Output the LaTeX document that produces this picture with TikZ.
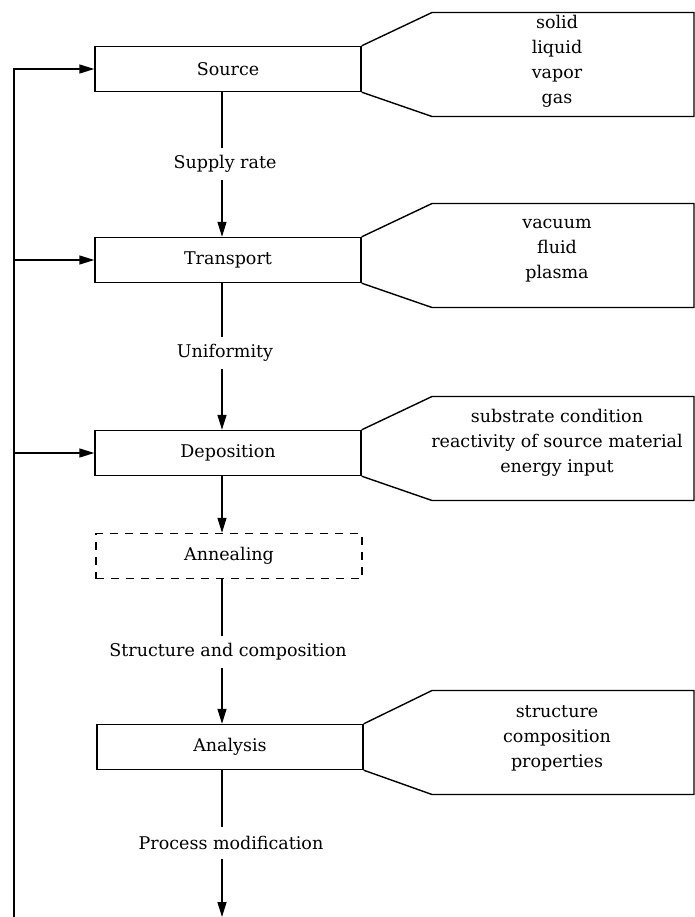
\documentclass[tikz,border=0pt]{standalone}
\usepackage{fontspec}
\setmainfont{DejaVu Serif}
\usetikzlibrary{arrows.meta}
\newcommand{\mfnt}{\fontsize{17.5pt}{25pt}\selectfont}
\begin{document}
\begin{tikzpicture}[x=1pt,y=-1pt,line width=1.4pt,
  box/.style={draw,minimum width=266pt,minimum height=45pt,inner sep=0pt,font=\mfnt},
  dbox/.style={box,dash pattern=on 8pt off 7pt},
  lab/.style={inner sep=0pt,minimum height=30pt,font=\mfnt},
  side/.style={align=center,inner sep=0pt,font=\mfnt},
  arr/.style={-{Triangle[length=15pt,width=9pt]}}]
\useasboundingbox (0,0) rectangle (695,917);
% main boxes
\node[box] (src) at (228,69) {Source};
\node[box] (trn) at (228,260) {Transport};
\node[box] (dep) at (228,453) {Deposition};
\node[dbox] (ann) at (229,556) {Annealing};
\node[box] (ana) at (230,747) {Analysis};
% connector labels
\node[lab] (l1) at (225,164) {Supply rate};
\node[lab] (l2) at (225,353) {Uniformity};
\node[lab] (l3) at (228,652) {Structure and composition};
\node[lab] (l4) at (231,843) {Process modification};
% arrow column
\coordinate (ax) at (222,0);
\coordinate (out) at (222,917);
\coordinate (fb) at (14,917);
\draw (src.south -| ax) -- (l1.north -| ax);
\draw[arr] (l1.south -| ax) -- (trn.north -| ax);
\draw (trn.south -| ax) -- (l2.north -| ax);
\draw[arr] (l2.south -| ax) -- (dep.north -| ax);
\draw[arr] (dep.south -| ax) -- (ann.north -| ax);
\draw (ann.south -| ax) -- (l3.north -| ax);
\draw[arr] (l3.south -| ax) -- (ana.north -| ax);
\draw (ana.south -| ax) -- (l4.north -| ax);
\draw[arr] (l4.south -| ax) -- (out);
% feedback line
\draw[arr] (fb) |- (src.west);
\draw[arr] (fb |- trn.west) -- (trn.west);
\draw[arr] (fb |- dep.west) -- (dep.west);
% callouts
\draw (src.north east) -- (432,12.5) -- (694,12.5) -- (694,116.5) -- (432,116.5) -- (src.south east);
\draw (trn.north east) -- (432,203.5) -- (694,203.5) -- (694,307.5) -- (432,307.5) -- (trn.south east);
\draw (dep.north east) -- (432,396.5) -- (694,396.5) -- (694,500.5) -- (432,500.5) -- (dep.south east);
\draw (ana.north east) -- (432,690.5) -- (694,690.5) -- (694,794.5) -- (432,794.5) -- (ana.south east);
\node[side] (s1) at (557,61) {solid\\liquid\\vapor\\gas};
\node[side] (s2) at (557,251) {vacuum\\fluid\\plasma};
\node[side] (s3) at (557,443) {substrate condition\\reactivity of source material\\energy input};
\node[side] (s4) at (557,738) {structure\\composition\\properties};
\end{tikzpicture}
\end{document}
